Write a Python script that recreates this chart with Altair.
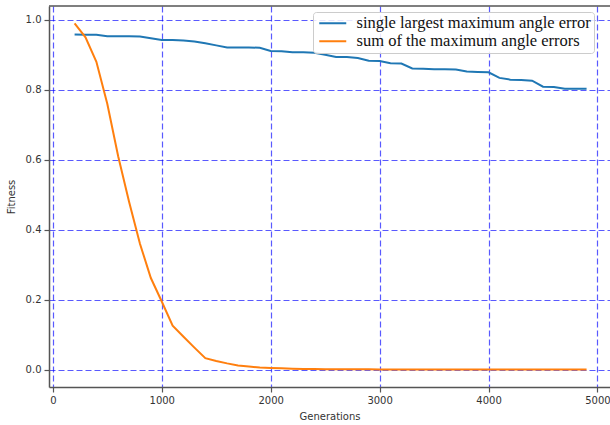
import altair as alt
import pandas as pd

generations = list(range(200, 5000, 100))

single_largest = [
    0.958, 0.957, 0.957, 0.953, 0.953, 0.953, 0.952, 0.947, 0.942, 0.942,
    0.941, 0.938, 0.933, 0.927, 0.921, 0.921, 0.921, 0.920, 0.911, 0.910,
    0.907, 0.907, 0.906, 0.900, 0.894, 0.894, 0.891, 0.883, 0.882, 0.876,
    0.875, 0.861, 0.860, 0.859, 0.859, 0.858, 0.852, 0.851, 0.850, 0.834,
    0.829, 0.828, 0.826, 0.809, 0.808, 0.803, 0.803, 0.803,
]

sum_errors = [
    0.990, 0.950, 0.880, 0.760, 0.610, 0.480, 0.360, 0.262, 0.195, 0.126,
    0.094, 0.063, 0.033, 0.025, 0.018, 0.012, 0.009, 0.006, 0.005, 0.004,
    0.003, 0.002, 0.002, 0.001, 0.001, 0.001, 0.001, 0.001, 0.0005, 0.0005,
    0.0005, 0.0005, 0.0005, 0.0005, 0.0005, 0.0005, 0.0005, 0.0005, 0.0005, 0.0005,
    0.0005, 0.0005, 0.0005, 0.0005, 0.0005, 0.0005, 0.0005, 0.0005,
]

series_names = ["single largest maximum angle error", "sum of the maximum angle errors"]
series_colors = ["#1f77b4", "#ff7f0e"]

x_ticks = [0, 1000, 2000, 3000, 4000, 5000]
y_ticks = [0.0, 0.2, 0.4, 0.6, 0.8, 1.0]

df = pd.concat([
    pd.DataFrame({"gen": generations, "fit": single_largest, "series": series_names[0]}),
    pd.DataFrame({"gen": generations, "fit": sum_errors, "series": series_names[1]}),
])

W, H = 561, 381

lines = alt.Chart(df).mark_line(strokeWidth=2).encode(
    x=alt.X("gen:Q", title="Generations",
            scale=alt.Scale(domain=[-35, 5115], nice=False, zero=False),
            axis=alt.Axis(values=x_ticks, format="d", titlePadding=6)),
    y=alt.Y("fit:Q", title="Fitness",
            scale=alt.Scale(domain=[-0.0495, 1.0395], nice=False, zero=False),
            axis=alt.Axis(values=y_ticks, format=".1f", titlePadding=9)),
    color=alt.Color("series:N", title=None,
                    scale=alt.Scale(domain=series_names, range=series_colors),
                    sort=series_names),
)

top_border = alt.Chart(pd.DataFrame({"a": [0]})).mark_rule(
    color="#555555", strokeWidth=1.5
).encode(x=alt.value(0), x2=alt.value(W), y=alt.value(0))

chart = alt.layer(lines, top_border).properties(
    width=W, height=H,
    padding={"left": 49, "top": 6, "right": 0, "bottom": 38},
    autosize=alt.AutoSizeParams(type="none"),
    background="white",
).configure_view(
    strokeWidth=0
).configure_axis(
    grid=True,
    gridColor="blue",
    gridOpacity=0.65,
    gridDash=[6, 3],
    gridWidth=1.2,
    domainColor="#555555",
    domainWidth=1.5,
    tickColor="#555555",
    tickSize=5,
    tickWidth=1.2,
    labelFont="DejaVu Sans",
    labelFontSize=10,
    labelColor="#333333",
    labelPadding=3,
    titleFont="DejaVu Sans",
    titleFontSize=10,
    titleFontWeight="normal",
    titleColor="#333333",
).configure_legend(
    orient="none",
    legendX=264,
    legendY=6,
    symbolType="M-1,0H4.4",
    symbolSize=100,
    symbolStrokeWidth=2,
    labelFont="Liberation Serif",
    labelFontSize=16.5,
    labelColor="#111111",
    labelOffset=24,
    rowPadding=1,
    padding=3,
    fillColor="rgba(255,255,255,0.85)",
    strokeColor="#cccccc",
    cornerRadius=3,
    labelLimit=400,
)

chart.save("out.html", embed_options={"renderer": "svg", "actions": False})
